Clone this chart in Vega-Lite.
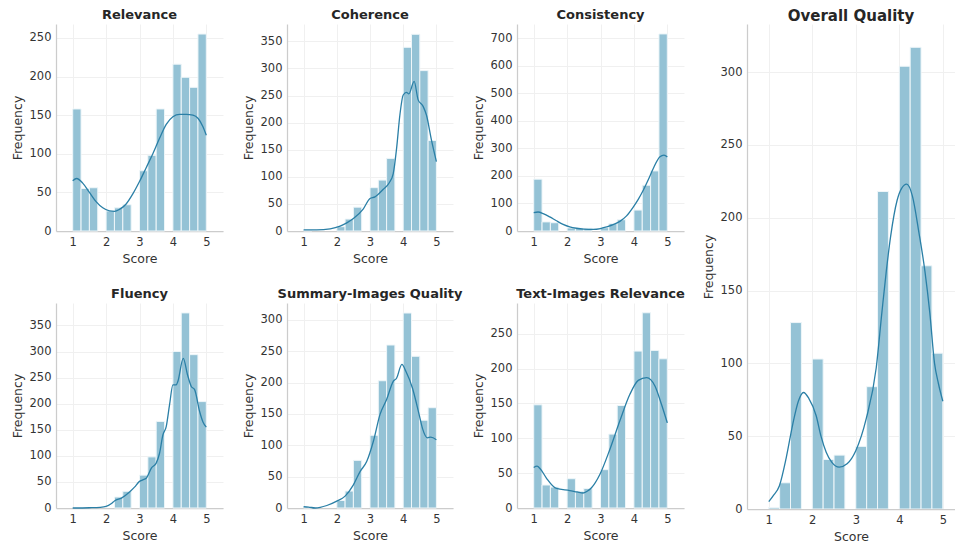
{
  "$schema": "https://vega.github.io/schema/vega-lite/v6.json",
  "padding": {"left": 11, "top": 9, "right": 0, "bottom": 2},
  "config": {
    "view": {"stroke": null},
    "font": "DejaVu Sans",
    "axis": {"domainColor": "#cccccc", "domainWidth": 1.25, "ticks": false, "labelPadding": 5, "gridColor": "#f0f0f0", "gridWidth": 1, "labelFontSize": 11.5, "labelColor": "#333333", "titleFontSize": 12.5, "titleFontWeight": "normal", "titleColor": "#333333", "labelFont": "DejaVu Sans", "titleFont": "DejaVu Sans"},
    "axisX": {"titlePadding": 5},
    "axisY": {"titlePadding": 5},
    "title": {"fontSize": 13, "fontWeight": "bold", "color": "#262626", "offset": 2, "font": "DejaVu Sans"}
  },
  "datasets": {
    "bars": [
      {"panel": "Relevance", "start": 1.0, "end": 1.25, "count": 158},
      {"panel": "Relevance", "start": 1.25, "end": 1.5, "count": 55},
      {"panel": "Relevance", "start": 1.5, "end": 1.75, "count": 56},
      {"panel": "Relevance", "start": 2.0, "end": 2.25, "count": 26},
      {"panel": "Relevance", "start": 2.25, "end": 2.5, "count": 30},
      {"panel": "Relevance", "start": 2.5, "end": 2.75, "count": 34},
      {"panel": "Relevance", "start": 3.0, "end": 3.25, "count": 78},
      {"panel": "Relevance", "start": 3.25, "end": 3.5, "count": 98},
      {"panel": "Relevance", "start": 3.5, "end": 3.75, "count": 158},
      {"panel": "Relevance", "start": 4.0, "end": 4.25, "count": 216},
      {"panel": "Relevance", "start": 4.25, "end": 4.5, "count": 199},
      {"panel": "Relevance", "start": 4.5, "end": 4.75, "count": 186},
      {"panel": "Relevance", "start": 4.75, "end": 5.0, "count": 255},

      {"panel": "Coherence", "start": 1.0, "end": 1.25, "count": 1},
      {"panel": "Coherence", "start": 2.0, "end": 2.25, "count": 8},
      {"panel": "Coherence", "start": 2.25, "end": 2.5, "count": 22},
      {"panel": "Coherence", "start": 2.5, "end": 2.75, "count": 44},
      {"panel": "Coherence", "start": 3.0, "end": 3.25, "count": 80},
      {"panel": "Coherence", "start": 3.25, "end": 3.5, "count": 94},
      {"panel": "Coherence", "start": 3.5, "end": 3.75, "count": 134},
      {"panel": "Coherence", "start": 4.0, "end": 4.25, "count": 339},
      {"panel": "Coherence", "start": 4.25, "end": 4.5, "count": 363},
      {"panel": "Coherence", "start": 4.5, "end": 4.75, "count": 296},
      {"panel": "Coherence", "start": 4.75, "end": 5.0, "count": 167},

      {"panel": "Consistency", "start": 1.0, "end": 1.25, "count": 188},
      {"panel": "Consistency", "start": 1.25, "end": 1.5, "count": 33},
      {"panel": "Consistency", "start": 1.5, "end": 1.75, "count": 30},
      {"panel": "Consistency", "start": 2.0, "end": 2.25, "count": 11},
      {"panel": "Consistency", "start": 2.25, "end": 2.5, "count": 10},
      {"panel": "Consistency", "start": 2.5, "end": 2.75, "count": 10},
      {"panel": "Consistency", "start": 3.0, "end": 3.25, "count": 12},
      {"panel": "Consistency", "start": 3.25, "end": 3.5, "count": 27},
      {"panel": "Consistency", "start": 3.5, "end": 3.75, "count": 41},
      {"panel": "Consistency", "start": 4.0, "end": 4.25, "count": 76},
      {"panel": "Consistency", "start": 4.25, "end": 4.5, "count": 166},
      {"panel": "Consistency", "start": 4.5, "end": 4.75, "count": 218},
      {"panel": "Consistency", "start": 4.75, "end": 5.0, "count": 715},

      {"panel": "Fluency", "start": 2.25, "end": 2.5, "count": 21},
      {"panel": "Fluency", "start": 2.5, "end": 2.75, "count": 32},
      {"panel": "Fluency", "start": 3.0, "end": 3.25, "count": 63},
      {"panel": "Fluency", "start": 3.25, "end": 3.5, "count": 98},
      {"panel": "Fluency", "start": 3.5, "end": 3.75, "count": 166},
      {"panel": "Fluency", "start": 4.0, "end": 4.25, "count": 300},
      {"panel": "Fluency", "start": 4.25, "end": 4.5, "count": 374},
      {"panel": "Fluency", "start": 4.5, "end": 4.75, "count": 294},
      {"panel": "Fluency", "start": 4.75, "end": 5.0, "count": 204},

      {"panel": "Summary-Images Quality", "start": 1.0, "end": 1.25, "count": 1},
      {"panel": "Summary-Images Quality", "start": 2.0, "end": 2.25, "count": 12},
      {"panel": "Summary-Images Quality", "start": 2.25, "end": 2.5, "count": 27},
      {"panel": "Summary-Images Quality", "start": 2.5, "end": 2.75, "count": 76},
      {"panel": "Summary-Images Quality", "start": 3.0, "end": 3.25, "count": 116},
      {"panel": "Summary-Images Quality", "start": 3.25, "end": 3.5, "count": 203},
      {"panel": "Summary-Images Quality", "start": 3.5, "end": 3.75, "count": 260},
      {"panel": "Summary-Images Quality", "start": 4.0, "end": 4.25, "count": 311},
      {"panel": "Summary-Images Quality", "start": 4.25, "end": 4.5, "count": 242},
      {"panel": "Summary-Images Quality", "start": 4.5, "end": 4.75, "count": 140},
      {"panel": "Summary-Images Quality", "start": 4.75, "end": 5.0, "count": 160},

      {"panel": "Text-Images Relevance", "start": 1.0, "end": 1.25, "count": 148},
      {"panel": "Text-Images Relevance", "start": 1.25, "end": 1.5, "count": 33},
      {"panel": "Text-Images Relevance", "start": 1.5, "end": 1.75, "count": 30},
      {"panel": "Text-Images Relevance", "start": 2.0, "end": 2.25, "count": 42},
      {"panel": "Text-Images Relevance", "start": 2.25, "end": 2.5, "count": 24},
      {"panel": "Text-Images Relevance", "start": 2.5, "end": 2.75, "count": 28},
      {"panel": "Text-Images Relevance", "start": 3.0, "end": 3.25, "count": 55},
      {"panel": "Text-Images Relevance", "start": 3.25, "end": 3.5, "count": 106},
      {"panel": "Text-Images Relevance", "start": 3.5, "end": 3.75, "count": 147},
      {"panel": "Text-Images Relevance", "start": 4.0, "end": 4.25, "count": 225},
      {"panel": "Text-Images Relevance", "start": 4.25, "end": 4.5, "count": 280},
      {"panel": "Text-Images Relevance", "start": 4.5, "end": 4.75, "count": 226},
      {"panel": "Text-Images Relevance", "start": 4.75, "end": 5.0, "count": 214},

      {"panel": "Overall Quality", "start": 1.0, "end": 1.25, "count": 1},
      {"panel": "Overall Quality", "start": 1.25, "end": 1.5, "count": 18},
      {"panel": "Overall Quality", "start": 1.5, "end": 1.75, "count": 128},
      {"panel": "Overall Quality", "start": 2.0, "end": 2.25, "count": 103},
      {"panel": "Overall Quality", "start": 2.25, "end": 2.5, "count": 34},
      {"panel": "Overall Quality", "start": 2.5, "end": 2.75, "count": 37},
      {"panel": "Overall Quality", "start": 3.0, "end": 3.25, "count": 43},
      {"panel": "Overall Quality", "start": 3.25, "end": 3.5, "count": 84},
      {"panel": "Overall Quality", "start": 3.5, "end": 3.75, "count": 218},
      {"panel": "Overall Quality", "start": 4.0, "end": 4.25, "count": 304},
      {"panel": "Overall Quality", "start": 4.25, "end": 4.5, "count": 317},
      {"panel": "Overall Quality", "start": 4.5, "end": 4.75, "count": 167},
      {"panel": "Overall Quality", "start": 4.75, "end": 5.0, "count": 107}
    ],
    "kde": [
      {"panel": "Relevance", "score": 1.0, "freq": 65}, {"panel": "Relevance", "score": 1.12, "freq": 68}, {"panel": "Relevance", "score": 1.3, "freq": 62}, {"panel": "Relevance", "score": 1.5, "freq": 50}, {"panel": "Relevance", "score": 1.7, "freq": 38}, {"panel": "Relevance", "score": 1.9, "freq": 30}, {"panel": "Relevance", "score": 2.1, "freq": 26}, {"panel": "Relevance", "score": 2.25, "freq": 25.5}, {"panel": "Relevance", "score": 2.4, "freq": 28}, {"panel": "Relevance", "score": 2.6, "freq": 35}, {"panel": "Relevance", "score": 2.8, "freq": 48}, {"panel": "Relevance", "score": 3.0, "freq": 64}, {"panel": "Relevance", "score": 3.2, "freq": 82}, {"panel": "Relevance", "score": 3.4, "freq": 100}, {"panel": "Relevance", "score": 3.6, "freq": 120}, {"panel": "Relevance", "score": 3.8, "freq": 138}, {"panel": "Relevance", "score": 4.0, "freq": 148}, {"panel": "Relevance", "score": 4.2, "freq": 151}, {"panel": "Relevance", "score": 4.4, "freq": 151}, {"panel": "Relevance", "score": 4.6, "freq": 150}, {"panel": "Relevance", "score": 4.75, "freq": 146}, {"panel": "Relevance", "score": 4.9, "freq": 135}, {"panel": "Relevance", "score": 5.0, "freq": 124},

      {"panel": "Coherence", "score": 1.0, "freq": 2}, {"panel": "Coherence", "score": 1.4, "freq": 2}, {"panel": "Coherence", "score": 1.8, "freq": 4}, {"panel": "Coherence", "score": 2.1, "freq": 9}, {"panel": "Coherence", "score": 2.3, "freq": 15}, {"panel": "Coherence", "score": 2.5, "freq": 23}, {"panel": "Coherence", "score": 2.8, "freq": 41}, {"panel": "Coherence", "score": 3.0, "freq": 60}, {"panel": "Coherence", "score": 3.15, "freq": 63}, {"panel": "Coherence", "score": 3.4, "freq": 77}, {"panel": "Coherence", "score": 3.58, "freq": 89}, {"panel": "Coherence", "score": 3.7, "freq": 106}, {"panel": "Coherence", "score": 3.8, "freq": 152}, {"panel": "Coherence", "score": 3.9, "freq": 214}, {"panel": "Coherence", "score": 4.0, "freq": 251}, {"panel": "Coherence", "score": 4.1, "freq": 256}, {"panel": "Coherence", "score": 4.17, "freq": 253}, {"panel": "Coherence", "score": 4.33, "freq": 276}, {"panel": "Coherence", "score": 4.45, "freq": 242}, {"panel": "Coherence", "score": 4.6, "freq": 230}, {"panel": "Coherence", "score": 4.7, "freq": 214}, {"panel": "Coherence", "score": 4.85, "freq": 168}, {"panel": "Coherence", "score": 5.0, "freq": 128},

      {"panel": "Consistency", "score": 1.0, "freq": 67}, {"panel": "Consistency", "score": 1.13, "freq": 69}, {"panel": "Consistency", "score": 1.3, "freq": 62}, {"panel": "Consistency", "score": 1.48, "freq": 51}, {"panel": "Consistency", "score": 1.68, "freq": 37}, {"panel": "Consistency", "score": 1.88, "freq": 24}, {"panel": "Consistency", "score": 2.08, "freq": 15}, {"panel": "Consistency", "score": 2.28, "freq": 10}, {"panel": "Consistency", "score": 2.5, "freq": 7}, {"panel": "Consistency", "score": 2.78, "freq": 6}, {"panel": "Consistency", "score": 3.0, "freq": 9}, {"panel": "Consistency", "score": 3.18, "freq": 15}, {"panel": "Consistency", "score": 3.38, "freq": 23}, {"panel": "Consistency", "score": 3.58, "freq": 35}, {"panel": "Consistency", "score": 3.78, "freq": 55}, {"panel": "Consistency", "score": 3.98, "freq": 87}, {"panel": "Consistency", "score": 4.13, "freq": 115}, {"panel": "Consistency", "score": 4.28, "freq": 148}, {"panel": "Consistency", "score": 4.43, "freq": 186}, {"panel": "Consistency", "score": 4.58, "freq": 227}, {"panel": "Consistency", "score": 4.78, "freq": 269}, {"panel": "Consistency", "score": 4.9, "freq": 275}, {"panel": "Consistency", "score": 5.0, "freq": 269},

      {"panel": "Fluency", "score": 1.0, "freq": 0}, {"panel": "Fluency", "score": 1.5, "freq": 0.5}, {"panel": "Fluency", "score": 1.82, "freq": 1.3}, {"panel": "Fluency", "score": 2.0, "freq": 3}, {"panel": "Fluency", "score": 2.15, "freq": 8}, {"panel": "Fluency", "score": 2.26, "freq": 14}, {"panel": "Fluency", "score": 2.46, "freq": 19}, {"panel": "Fluency", "score": 2.71, "freq": 31}, {"panel": "Fluency", "score": 2.85, "freq": 40}, {"panel": "Fluency", "score": 3.0, "freq": 51}, {"panel": "Fluency", "score": 3.1, "freq": 54}, {"panel": "Fluency", "score": 3.2, "freq": 57}, {"panel": "Fluency", "score": 3.36, "freq": 77}, {"panel": "Fluency", "score": 3.5, "freq": 86}, {"panel": "Fluency", "score": 3.6, "freq": 105}, {"panel": "Fluency", "score": 3.7, "freq": 140}, {"panel": "Fluency", "score": 3.8, "freq": 156}, {"panel": "Fluency", "score": 3.9, "freq": 198}, {"panel": "Fluency", "score": 4.0, "freq": 236}, {"panel": "Fluency", "score": 4.1, "freq": 236}, {"panel": "Fluency", "score": 4.15, "freq": 243}, {"panel": "Fluency", "score": 4.31, "freq": 287}, {"panel": "Fluency", "score": 4.44, "freq": 255}, {"panel": "Fluency", "score": 4.55, "freq": 233}, {"panel": "Fluency", "score": 4.65, "freq": 227}, {"panel": "Fluency", "score": 4.8, "freq": 185}, {"panel": "Fluency", "score": 4.9, "freq": 165}, {"panel": "Fluency", "score": 5.0, "freq": 155},

      {"panel": "Summary-Images Quality", "score": 1.0, "freq": 2}, {"panel": "Summary-Images Quality", "score": 1.15, "freq": 1.5}, {"panel": "Summary-Images Quality", "score": 1.35, "freq": 0}, {"panel": "Summary-Images Quality", "score": 1.7, "freq": 4}, {"panel": "Summary-Images Quality", "score": 2.0, "freq": 11}, {"panel": "Summary-Images Quality", "score": 2.25, "freq": 19}, {"panel": "Summary-Images Quality", "score": 2.5, "freq": 37}, {"panel": "Summary-Images Quality", "score": 2.7, "freq": 58}, {"panel": "Summary-Images Quality", "score": 2.9, "freq": 74}, {"panel": "Summary-Images Quality", "score": 3.1, "freq": 106}, {"panel": "Summary-Images Quality", "score": 3.3, "freq": 149}, {"panel": "Summary-Images Quality", "score": 3.5, "freq": 173}, {"panel": "Summary-Images Quality", "score": 3.7, "freq": 202}, {"panel": "Summary-Images Quality", "score": 3.8, "freq": 207}, {"panel": "Summary-Images Quality", "score": 3.96, "freq": 229}, {"panel": "Summary-Images Quality", "score": 4.08, "freq": 218}, {"panel": "Summary-Images Quality", "score": 4.28, "freq": 191}, {"panel": "Summary-Images Quality", "score": 4.48, "freq": 149}, {"panel": "Summary-Images Quality", "score": 4.58, "freq": 127}, {"panel": "Summary-Images Quality", "score": 4.73, "freq": 112}, {"panel": "Summary-Images Quality", "score": 4.83, "freq": 113}, {"panel": "Summary-Images Quality", "score": 5.0, "freq": 109},

      {"panel": "Text-Images Relevance", "score": 1.0, "freq": 58}, {"panel": "Text-Images Relevance", "score": 1.1, "freq": 60}, {"panel": "Text-Images Relevance", "score": 1.2, "freq": 56}, {"panel": "Text-Images Relevance", "score": 1.38, "freq": 43}, {"panel": "Text-Images Relevance", "score": 1.68, "freq": 28}, {"panel": "Text-Images Relevance", "score": 2.08, "freq": 25}, {"panel": "Text-Images Relevance", "score": 2.3, "freq": 23}, {"panel": "Text-Images Relevance", "score": 2.48, "freq": 21.5}, {"panel": "Text-Images Relevance", "score": 2.6, "freq": 24}, {"panel": "Text-Images Relevance", "score": 2.73, "freq": 29}, {"panel": "Text-Images Relevance", "score": 2.98, "freq": 48}, {"panel": "Text-Images Relevance", "score": 3.28, "freq": 84}, {"panel": "Text-Images Relevance", "score": 3.58, "freq": 125}, {"panel": "Text-Images Relevance", "score": 3.88, "freq": 163}, {"panel": "Text-Images Relevance", "score": 4.13, "freq": 183}, {"panel": "Text-Images Relevance", "score": 4.38, "freq": 187}, {"panel": "Text-Images Relevance", "score": 4.63, "freq": 175}, {"panel": "Text-Images Relevance", "score": 4.83, "freq": 148}, {"panel": "Text-Images Relevance", "score": 5.0, "freq": 122},

      {"panel": "Overall Quality", "score": 1.0, "freq": 5}, {"panel": "Overall Quality", "score": 1.1, "freq": 9}, {"panel": "Overall Quality", "score": 1.245, "freq": 16}, {"panel": "Overall Quality", "score": 1.4, "freq": 35}, {"panel": "Overall Quality", "score": 1.55, "freq": 58}, {"panel": "Overall Quality", "score": 1.68, "freq": 74}, {"panel": "Overall Quality", "score": 1.8, "freq": 80}, {"panel": "Overall Quality", "score": 1.92, "freq": 76}, {"panel": "Overall Quality", "score": 2.09, "freq": 64}, {"panel": "Overall Quality", "score": 2.2, "freq": 50}, {"panel": "Overall Quality", "score": 2.32, "freq": 39}, {"panel": "Overall Quality", "score": 2.45, "freq": 32}, {"panel": "Overall Quality", "score": 2.62, "freq": 28.7}, {"panel": "Overall Quality", "score": 2.8, "freq": 31}, {"panel": "Overall Quality", "score": 3.0, "freq": 40}, {"panel": "Overall Quality", "score": 3.24, "freq": 62}, {"panel": "Overall Quality", "score": 3.47, "freq": 97}, {"panel": "Overall Quality", "score": 3.6, "freq": 135}, {"panel": "Overall Quality", "score": 3.7, "freq": 163}, {"panel": "Overall Quality", "score": 3.8, "freq": 187}, {"panel": "Overall Quality", "score": 3.95, "freq": 212}, {"panel": "Overall Quality", "score": 4.05, "freq": 220}, {"panel": "Overall Quality", "score": 4.17, "freq": 223}, {"panel": "Overall Quality", "score": 4.3, "freq": 215}, {"panel": "Overall Quality", "score": 4.45, "freq": 190}, {"panel": "Overall Quality", "score": 4.59, "freq": 163}, {"panel": "Overall Quality", "score": 4.7, "freq": 135}, {"panel": "Overall Quality", "score": 4.81, "freq": 100}, {"panel": "Overall Quality", "score": 4.9, "freq": 86}, {"panel": "Overall Quality", "score": 5.0, "freq": 74}
    ]
  },
  "hconcat": [
    {
      "vconcat": [
        {
          "hconcat": [
            {"title": "Relevance", "width": 167, "height": 207, "layer": [
              {"data": {"name": "bars"}, "transform": [{"filter": "datum.panel === 'Relevance'"}], "mark": {"type": "bar", "fill": "#94c2d5", "stroke": "#eef6f9", "strokeWidth": 1}, "encoding": {"x": {"field": "start", "type": "quantitative", "title": "Score", "scale": {"domain": [0.5, 5.5], "nice": false}, "axis": {"values": [1, 2, 3, 4, 5]}}, "x2": {"field": "end"}, "y": {"field": "count", "type": "quantitative", "title": "Frequency", "scale": {"domain": [0, 268], "nice": false}, "axis": {"values": [0, 50, 100, 150, 200, 250]}}, "y2": {"datum": 0}}},
              {"data": {"name": "kde"}, "transform": [{"filter": "datum.panel === 'Relevance'"}], "mark": {"type": "line", "color": "#2a7fa6", "strokeWidth": 1.3, "interpolate": "monotone"}, "encoding": {"x": {"field": "score", "type": "quantitative", "title": "Score", "axis": {"values": [1, 2, 3, 4, 5]}}, "y": {"field": "freq", "type": "quantitative", "title": "Frequency", "axis": {"values": [0, 50, 100, 150, 200, 250]}}}}
            ]},
            {"title": "Coherence", "width": 166, "height": 207, "layer": [
              {"data": {"name": "bars"}, "transform": [{"filter": "datum.panel === 'Coherence'"}], "mark": {"type": "bar", "fill": "#94c2d5", "stroke": "#eef6f9", "strokeWidth": 1}, "encoding": {"x": {"field": "start", "type": "quantitative", "title": "Score", "scale": {"domain": [0.5, 5.5], "nice": false}, "axis": {"values": [1, 2, 3, 4, 5]}}, "x2": {"field": "end"}, "y": {"field": "count", "type": "quantitative", "title": "Frequency", "scale": {"domain": [0, 382], "nice": false}, "axis": {"values": [0, 50, 100, 150, 200, 250, 300, 350]}}, "y2": {"datum": 0}}},
              {"data": {"name": "kde"}, "transform": [{"filter": "datum.panel === 'Coherence'"}], "mark": {"type": "line", "color": "#2a7fa6", "strokeWidth": 1.3, "interpolate": "monotone"}, "encoding": {"x": {"field": "score", "type": "quantitative", "title": "Score", "axis": {"values": [1, 2, 3, 4, 5]}}, "y": {"field": "freq", "type": "quantitative", "title": "Frequency", "axis": {"values": [0, 50, 100, 150, 200, 250, 300, 350]}}}}
            ]},
            {"title": "Consistency", "width": 167, "height": 207, "layer": [
              {"data": {"name": "bars"}, "transform": [{"filter": "datum.panel === 'Consistency'"}], "mark": {"type": "bar", "fill": "#94c2d5", "stroke": "#eef6f9", "strokeWidth": 1}, "encoding": {"x": {"field": "start", "type": "quantitative", "title": "Score", "scale": {"domain": [0.5, 5.5], "nice": false}, "axis": {"values": [1, 2, 3, 4, 5]}}, "x2": {"field": "end"}, "y": {"field": "count", "type": "quantitative", "title": "Frequency", "scale": {"domain": [0, 751], "nice": false}, "axis": {"values": [0, 100, 200, 300, 400, 500, 600, 700]}}, "y2": {"datum": 0}}},
              {"data": {"name": "kde"}, "transform": [{"filter": "datum.panel === 'Consistency'"}], "mark": {"type": "line", "color": "#2a7fa6", "strokeWidth": 1.3, "interpolate": "monotone"}, "encoding": {"x": {"field": "score", "type": "quantitative", "title": "Score", "axis": {"values": [1, 2, 3, 4, 5]}}, "y": {"field": "freq", "type": "quantitative", "title": "Frequency", "axis": {"values": [0, 100, 200, 300, 400, 500, 600, 700]}}}}
            ]}
          ],
          "spacing": 64, "bounds": "flush"
        },
        {
          "hconcat": [
            {"title": "Fluency", "width": 167, "height": 205, "layer": [
              {"data": {"name": "bars"}, "transform": [{"filter": "datum.panel === 'Fluency'"}], "mark": {"type": "bar", "fill": "#94c2d5", "stroke": "#eef6f9", "strokeWidth": 1}, "encoding": {"x": {"field": "start", "type": "quantitative", "title": "Score", "scale": {"domain": [0.5, 5.5], "nice": false}, "axis": {"values": [1, 2, 3, 4, 5]}}, "x2": {"field": "end"}, "y": {"field": "count", "type": "quantitative", "title": "Frequency", "scale": {"domain": [0, 393], "nice": false}, "axis": {"values": [0, 50, 100, 150, 200, 250, 300, 350]}}, "y2": {"datum": 0}}},
              {"data": {"name": "kde"}, "transform": [{"filter": "datum.panel === 'Fluency'"}], "mark": {"type": "line", "color": "#2a7fa6", "strokeWidth": 1.3, "interpolate": "monotone"}, "encoding": {"x": {"field": "score", "type": "quantitative", "title": "Score", "axis": {"values": [1, 2, 3, 4, 5]}}, "y": {"field": "freq", "type": "quantitative", "title": "Frequency", "axis": {"values": [0, 50, 100, 150, 200, 250, 300, 350]}}}}
            ]},
            {"title": "Summary-Images Quality", "width": 166, "height": 205, "layer": [
              {"data": {"name": "bars"}, "transform": [{"filter": "datum.panel === 'Summary-Images Quality'"}], "mark": {"type": "bar", "fill": "#94c2d5", "stroke": "#eef6f9", "strokeWidth": 1}, "encoding": {"x": {"field": "start", "type": "quantitative", "title": "Score", "scale": {"domain": [0.5, 5.5], "nice": false}, "axis": {"values": [1, 2, 3, 4, 5]}}, "x2": {"field": "end"}, "y": {"field": "count", "type": "quantitative", "title": "Frequency", "scale": {"domain": [0, 327], "nice": false}, "axis": {"values": [0, 50, 100, 150, 200, 250, 300]}}, "y2": {"datum": 0}}},
              {"data": {"name": "kde"}, "transform": [{"filter": "datum.panel === 'Summary-Images Quality'"}], "mark": {"type": "line", "color": "#2a7fa6", "strokeWidth": 1.3, "interpolate": "monotone"}, "encoding": {"x": {"field": "score", "type": "quantitative", "title": "Score", "axis": {"values": [1, 2, 3, 4, 5]}}, "y": {"field": "freq", "type": "quantitative", "title": "Frequency", "axis": {"values": [0, 50, 100, 150, 200, 250, 300]}}}}
            ]},
            {"title": "Text-Images Relevance", "width": 167, "height": 205, "layer": [
              {"data": {"name": "bars"}, "transform": [{"filter": "datum.panel === 'Text-Images Relevance'"}], "mark": {"type": "bar", "fill": "#94c2d5", "stroke": "#eef6f9", "strokeWidth": 1}, "encoding": {"x": {"field": "start", "type": "quantitative", "title": "Score", "scale": {"domain": [0.5, 5.5], "nice": false}, "axis": {"values": [1, 2, 3, 4, 5]}}, "x2": {"field": "end"}, "y": {"field": "count", "type": "quantitative", "title": "Frequency", "scale": {"domain": [0, 294], "nice": false}, "axis": {"values": [0, 50, 100, 150, 200, 250]}}, "y2": {"datum": 0}}},
              {"data": {"name": "kde"}, "transform": [{"filter": "datum.panel === 'Text-Images Relevance'"}], "mark": {"type": "line", "color": "#2a7fa6", "strokeWidth": 1.3, "interpolate": "monotone"}, "encoding": {"x": {"field": "score", "type": "quantitative", "title": "Score", "axis": {"values": [1, 2, 3, 4, 5]}}, "y": {"field": "freq", "type": "quantitative", "title": "Frequency", "axis": {"values": [0, 50, 100, 150, 200, 250]}}}}
            ]}
          ],
          "spacing": 64, "bounds": "flush"
        }
      ],
      "spacing": 23
    },
    {"title": {"text": "Overall Quality", "fontSize": 15, "offset": 0}, "width": 208, "height": 485, "layer": [
      {"data": {"name": "bars"}, "transform": [{"filter": "datum.panel === 'Overall Quality'"}], "mark": {"type": "bar", "fill": "#94c2d5", "stroke": "#eef6f9", "strokeWidth": 1, "clip": true}, "encoding": {"x": {"field": "start", "type": "quantitative", "title": "Score", "scale": {"domain": [0.5, 5.28], "nice": false}, "axis": {"values": [1, 2, 3, 4, 5]}}, "x2": {"field": "end"}, "y": {"field": "count", "type": "quantitative", "title": "Frequency", "scale": {"domain": [0, 333], "nice": false}, "axis": {"values": [0, 50, 100, 150, 200, 250, 300]}}, "y2": {"datum": 0}}},
      {"data": {"name": "kde"}, "transform": [{"filter": "datum.panel === 'Overall Quality'"}], "mark": {"type": "line", "color": "#2a7fa6", "strokeWidth": 1.3, "interpolate": "monotone", "clip": true}, "encoding": {"x": {"field": "score", "type": "quantitative", "title": "Score", "axis": {"values": [1, 2, 3, 4, 5]}}, "y": {"field": "freq", "type": "quantitative", "title": "Frequency", "axis": {"values": [0, 50, 100, 150, 200, 250, 300]}}}}
    ]}
  ],
  "spacing": 17
}
